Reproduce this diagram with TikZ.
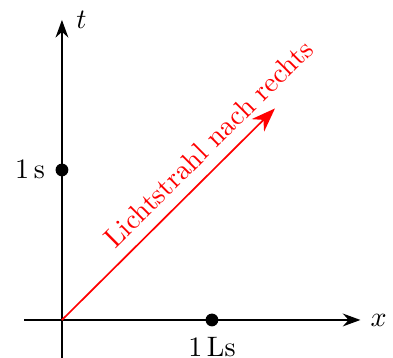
\documentclass[tikz,border=0pt]{standalone}
\usepackage{tikz}
\usetikzlibrary{arrows.meta,positioning,calc}

\begin{document}
\begin{tikzpicture}[x=1.875cm, y=1.875cm,
			axis/.style={semithick, -{Stealth[length=2.2mm, width=1.6mm]}},
			dot/.style={circle, fill, inner sep=0pt, minimum size=1.6mm},
			ray/.style={semithick, red, -{Stealth[length=3mm, width=2.2mm]}}]
			\useasboundingbox (-0.413,-0.253) rectangle (2.207,2.133);
			\coordinate (O) at (0,0);
			\coordinate (xs) at (-0.25,0); \coordinate (xe) at (1.99,0);
			\coordinate (ts) at (0,-0.26); \coordinate (te) at (0,2);
			\coordinate (re) at (1.42,1.41);
			\draw[axis] (xs) -- (xe) node[right] (xl) {$x$};
			\draw[axis] (ts) -- (te) node[right, xshift=1.5pt] (tl) {$t$};
			\node[dot, label=below:{$1\,$Ls}] (ls) at (1,0) {};
			\node[dot, label=left:{$1\,$s}] (s) at (0,1) {};
			\draw[ray] (O) -- (re) node[pos=0.76, sloped, above, inner sep=4pt] (lab) {Lichtstrahl nach rechts};
		\end{tikzpicture}
\end{document}
